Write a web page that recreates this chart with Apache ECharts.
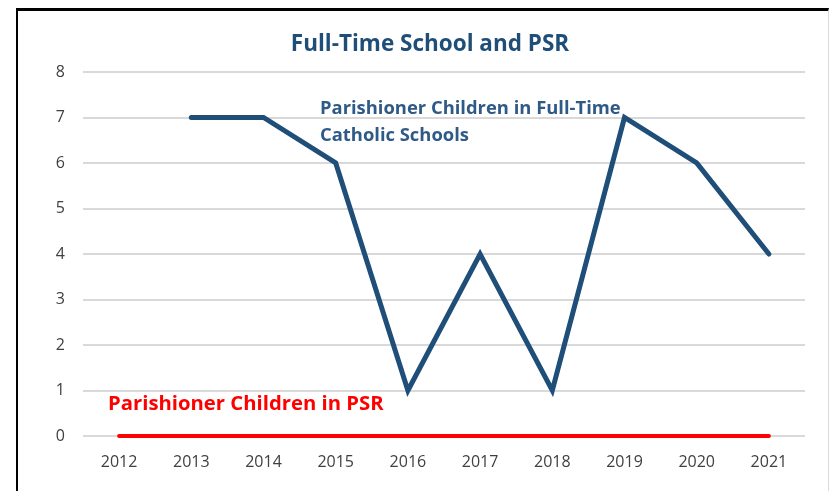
<!DOCTYPE html>
<html>
<head>
<meta charset="utf-8">
<script src="https://cdn.jsdelivr.net/npm/echarts@6/dist/echarts.min.js"></script>
<style>
  html, body { margin: 0; padding: 0; background: #fff; }
  #frame { position: absolute; left: 16px; top: 8px; width: 810px; height: 490px;
    border-left: 2px solid #000; border-top: 3px solid #000; border-right: 1px solid #d9d9d9; }
  #chart { position: absolute; left: 0; top: 0; width: 831px; height: 491px; }
</style>
</head>
<body>
<div id="frame"></div>
<div id="chart"></div>
<script>
const years = ["2012", "2013", "2014", "2015", "2016", "2017", "2018", "2019", "2020", "2021"];
const fullTime = [null, 7, 7, 6, 1, 4, 1, 7, 6, 4];
const psr = [0, 0, 0, 0, 0, 0, 0, 0, 0, 0];

const font = "'Open Sans', 'Noto Sans', sans-serif";
const chart = echarts.init(document.getElementById("chart"));

chart.setOption({
  animation: false,
  title: {
    text: "Full-Time School and PSR",
    left: 425,
    textAlign: "center",
    top: 28,
    textStyle: { color: "#1F4E79", fontSize: 22.5, fontWeight: "bold", fontFamily: font }
  },
  grid: { left: 83, right: 26, top: 72, bottom: 55 },
  xAxis: {
    type: "category",
    data: years,
    boundaryGap: true,
    axisLine: { show: false },
    axisTick: { show: false },
    axisLabel: { color: "#404040", fontSize: 16, margin: 18, fontFamily: font }
  },
  yAxis: {
    type: "value",
    min: 0,
    max: 8,
    interval: 1,
    axisLine: { show: false },
    axisTick: { show: false },
    axisLabel: { color: "#404040", fontSize: 16, margin: 18, fontFamily: font },
    splitLine: { lineStyle: { color: "#d9d9d9", width: 2 } }
  },
  series: [
    {
      name: "Parishioner Children in Full-Time Catholic Schools",
      type: "line",
      data: fullTime,
      symbol: "none",
      connectNulls: false,
      lineStyle: { color: "#1F4E79", width: 5, cap: "round", join: "miter" },
      z: 3
    },
    {
      name: "Parishioner Children in PSR",
      type: "line",
      data: psr,
      symbol: "none",
      lineStyle: { color: "#FF0000", width: 4, cap: "round" },
      z: 2
    }
  ],
  graphic: [
    {
      type: "text",
      left: 320,
      top: 95,
      style: {
        text: "Parishioner Children in Full-Time\nCatholic Schools",
        fill: "#2F5A87",
        font: "bold 18.4px " + font,
        lineHeight: 27
      }
    },
    {
      type: "text",
      left: 108,
      top: 394,
      style: {
        text: "Parishioner Children in PSR",
        fill: "#FF0000",
        font: "bold 20.3px " + font
      }
    }
  ]
});
</script>
</body>
</html>
